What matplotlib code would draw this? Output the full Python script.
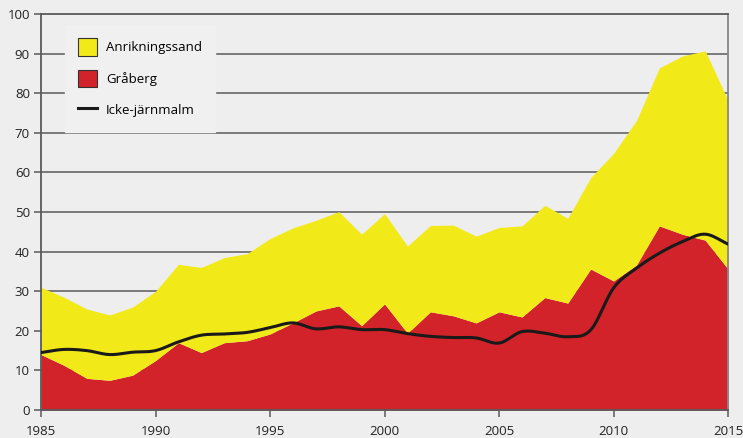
import numpy as np
import matplotlib
matplotlib.use("Agg")
import matplotlib.pyplot as plt
from matplotlib.patches import Patch
from matplotlib.lines import Line2D

years = list(range(1985, 2016))
total = [31, 28.5, 25.5, 24, 26, 30, 36.8, 36, 38.5, 39.5,
         43.3, 46, 47.9, 50.1, 44.4, 49.6, 41.4, 46.6, 46.7, 43.9,
         46.1, 46.5, 51.7, 48.4, 58.7, 64.8, 73.1, 86.4, 89.4, 90.7, 78.2]
graberg = [14, 11.3, 8, 7.5, 8.8, 12.5, 17, 14.5, 17, 17.5,
           19.2, 22, 25, 26.3, 21.3, 26.8, 19.4, 24.8, 23.8, 22,
           24.8, 23.5, 28.4, 27, 35.6, 32.6, 36.6, 46.5, 44.4, 42.9, 35.6]
icke = [14.5, 15.3, 15, 14, 14.6, 15, 17.2, 18.9, 19.2, 19.6,
        20.8, 22, 20.5, 21, 20.3, 20.3, 19.3, 18.6, 18.3, 18.2,
        16.9, 19.8, 19.4, 18.5, 20.2, 30.8, 35.8, 39.6, 42.5, 44.4, 41.9]
labels = ["Anrikningssand", "Gråberg", "Icke-järnmalm"]

YELLOW = "#F2EA18"
RED = "#D2232A"
BG = "#EEEEEE"
GRID = "#5A5A5A"

def catmull(x, y, n=12):
    x = np.asarray(x, float); y = np.asarray(y, float)
    xp = np.concatenate([[2*x[0]-x[1]], x, [2*x[-1]-x[-2]]])
    yp = np.concatenate([[2*y[0]-y[1]], y, [2*y[-1]-y[-2]]])
    xs, ys = [], []
    t = np.linspace(0, 1, n, endpoint=False)
    for i in range(1, len(xp)-2):
        p0, p1, p2, p3 = yp[i-1], yp[i], yp[i+1], yp[i+2]
        yy = 0.5*((2*p1) + (-p0+p2)*t + (2*p0-5*p1+4*p2-p3)*t**2 + (-p0+3*p1-3*p2+p3)*t**3)
        xx = xp[i] + (xp[i+1]-xp[i])*t
        xs.append(xx); ys.append(yy)
    xs.append([x[-1]]); ys.append([y[-1]])
    return np.concatenate(xs), np.concatenate(ys)

plt.rcParams['font.family'] = ['Open Sans', 'DejaVu Sans']
fig = plt.figure(figsize=(7.43, 4.38), dpi=100, facecolor=BG)
ax = fig.add_axes([0.0552, 0.0639, 0.9247, 0.9041])
ax.set_facecolor(BG)

x = np.array(years)
ax.fill_between(x, 0, graberg, color=RED, lw=0, zorder=2)
ax.fill_between(x, graberg, total, color=YELLOW, lw=0, zorder=2)
sx, sy = catmull(years, icke)
ax.plot(sx, sy, color="#1a1a1a", lw=2.2, zorder=3, solid_capstyle='round')

ax.set_xlim(1985, 2015)
ax.set_ylim(0, 100)
ax.set_yticks(range(0, 101, 10))
ax.set_xticks(range(1985, 2016, 5))
for yv in range(10, 100, 10):
    ax.axhline(yv, color=GRID, lw=1.1, zorder=1)
for s in ['left', 'bottom', 'top', 'right']:
    ax.spines[s].set_color(GRID)
    ax.spines[s].set_linewidth(1.3)
ax.spines['right'].set_color('#888888')
ax.tick_params(axis='both', colors=GRID, labelcolor='#222222', labelsize=9.5,
               length=5, width=1.1, direction='out')
ax.tick_params(axis='x', pad=6)
ax.tick_params(axis='y', pad=3)

handles = [Patch(facecolor=YELLOW, edgecolor='#333333', lw=0.8),
           Patch(facecolor=RED, edgecolor='#333333', lw=0.8),
           Line2D([0], [0], color='#1a1a1a', lw=2.2)]
leg = ax.legend(handles, labels, loc='upper left', bbox_to_anchor=(0.035, 0.973),
                frameon=True, fancybox=False, framealpha=1, fontsize=9.5,
                handlelength=1.4, handleheight=1.7, labelspacing=1.05,
                borderpad=1.0, handletextpad=0.7, borderaxespad=0)
leg.get_frame().set_facecolor("#F0F0F0")
leg.get_frame().set_edgecolor("#F0F0F0")
leg.set_zorder(5)

fig.savefig("out.png", dpi=100, facecolor=BG)
